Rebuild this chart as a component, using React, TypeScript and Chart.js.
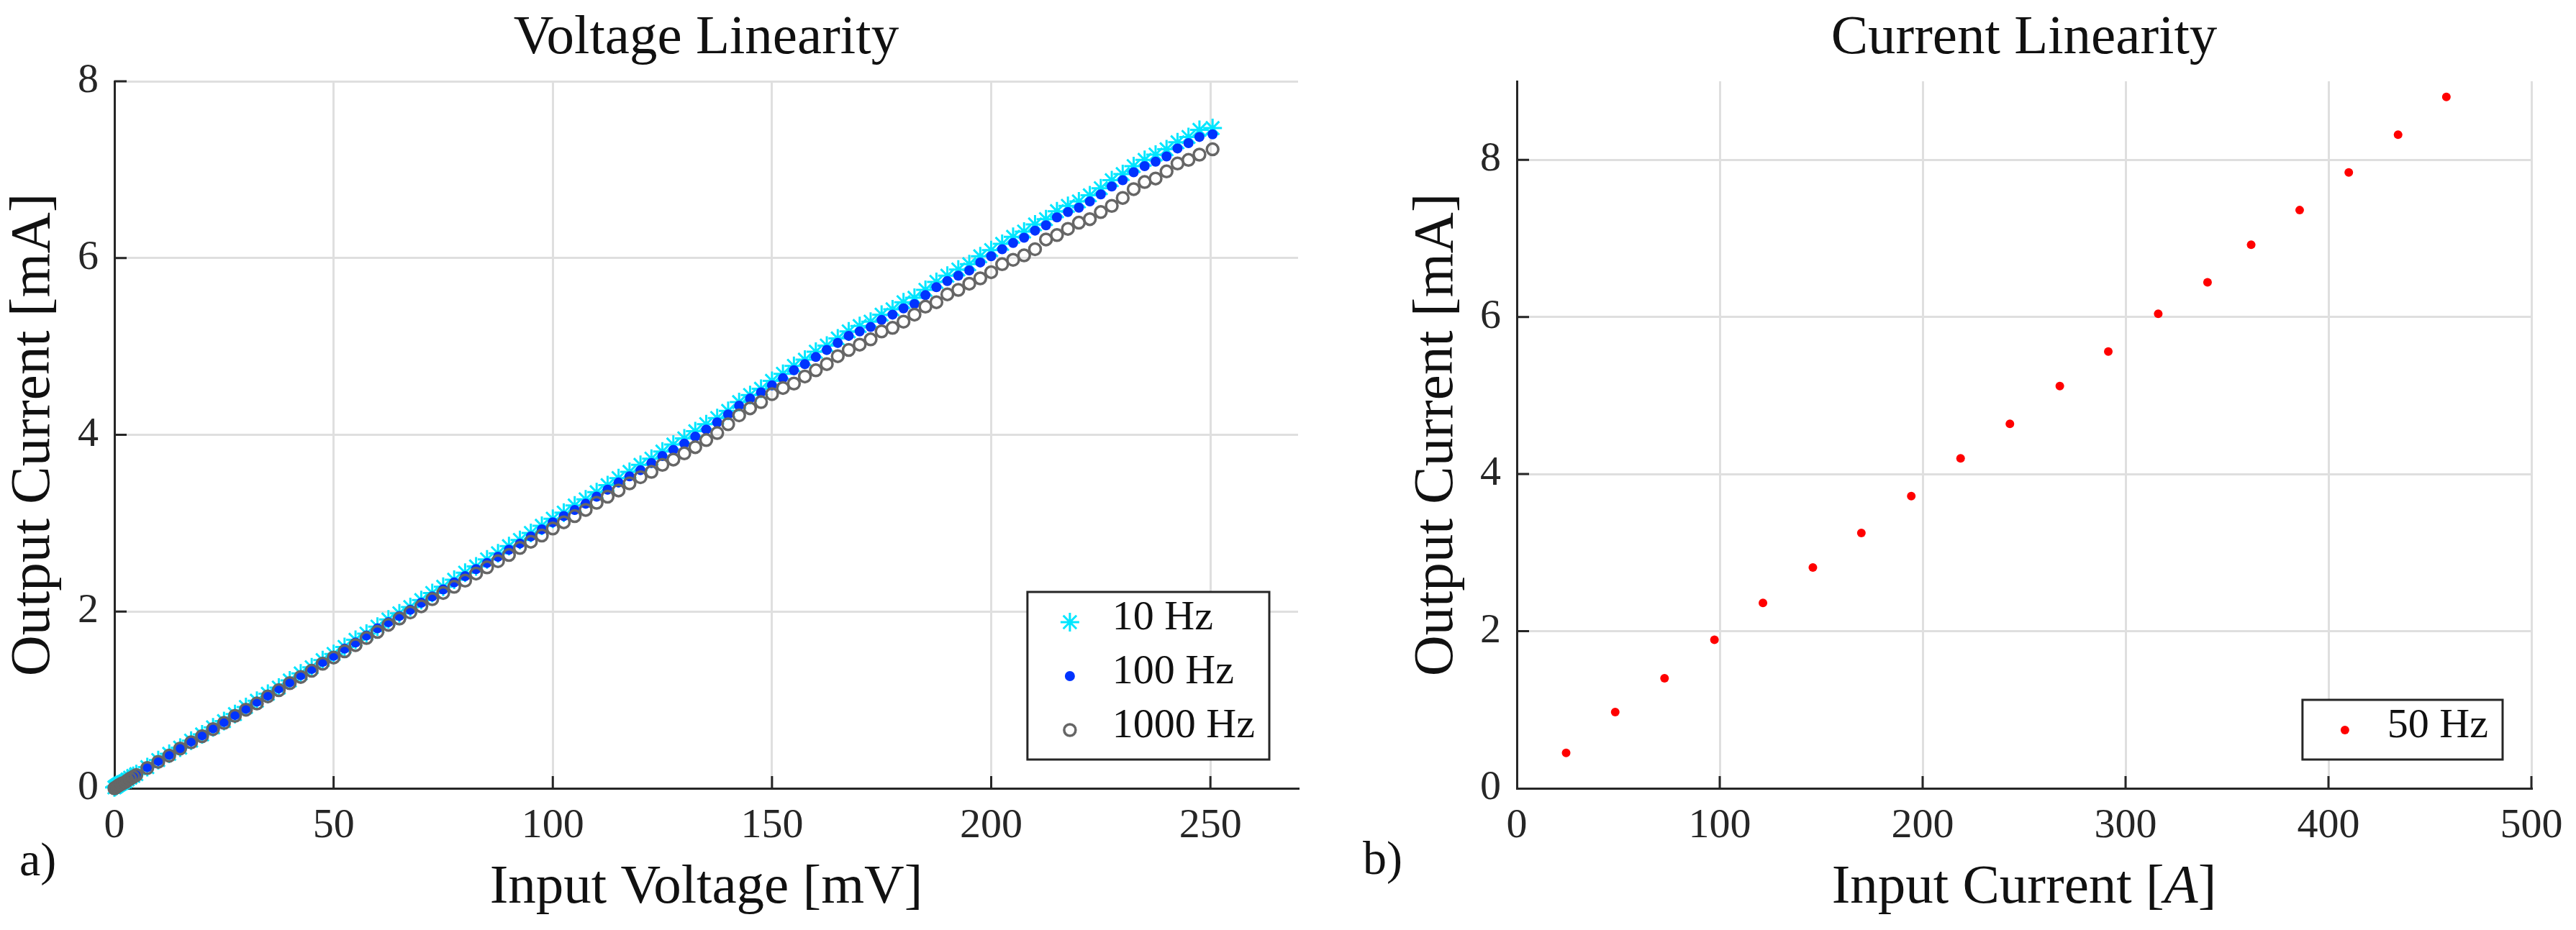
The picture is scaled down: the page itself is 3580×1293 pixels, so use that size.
import { useEffect, useRef } from "react";
import React from "react";
import { Chart, ChartConfiguration, Plugin, registerables } from "chart.js";
import { drawPoint } from "chart.js/helpers";
Chart.register(...registerables);

// ---- data ----
const inputVoltage = [
  0, 0.3, 0.6, 0.9, 1.2, 1.6, 2.0, 2.5, 3.0, 3.6,
  4.3, 5.0, 7.5, 10, 12.5, 15, 17.5, 20, 22.5, 25,
  27.5, 30, 32.5, 35, 37.5, 40, 42.5, 45, 47.5, 50,
  52.5, 55, 57.5, 60, 62.5, 65, 67.5, 70, 72.5, 75,
  77.5, 80, 82.5, 85, 87.5, 90, 92.5, 95, 97.5, 100,
  102.5, 105, 107.5, 110, 112.5, 115, 117.5, 120, 122.5, 125,
  127.5, 130, 132.5, 135, 137.5, 140, 142.5, 145, 147.5, 150,
  152.5, 155, 157.5, 160, 162.5, 165, 167.5, 170, 172.5, 175,
  177.5, 180, 182.5, 185, 187.5, 190, 192.5, 195, 197.5, 200,
  202.5, 205, 207.5, 210, 212.5, 215, 217.5, 220, 222.5, 225,
  227.5, 230, 232.5, 235, 237.5, 240, 242.5, 245, 247.5, 250.5,
];

const current10Hz = [
  0.01, 0.02, 0.03, 0.04, 0.05, 0.06, 0.07, 0.08, 0.1, 0.12,
  0.14, 0.16, 0.24, 0.32, 0.39, 0.46, 0.54, 0.61, 0.69, 0.76,
  0.84, 0.92, 0.99, 1.07, 1.14, 1.22, 1.3, 1.37, 1.45, 1.52,
  1.6, 1.68, 1.75, 1.83, 1.91, 1.98, 2.05, 2.13, 2.21, 2.28,
  2.36, 2.44, 2.51, 2.59, 2.66, 2.74, 2.81, 2.89, 2.97, 3.05,
  3.12, 3.2, 3.27, 3.35, 3.43, 3.51, 3.58, 3.66, 3.73, 3.81,
  3.89, 3.96, 4.04, 4.12, 4.19, 4.27, 4.37, 4.45, 4.52, 4.61,
  4.69, 4.78, 4.85, 4.94, 5.01, 5.09, 5.17, 5.23, 5.28, 5.36,
  5.42, 5.5, 5.55, 5.64, 5.73, 5.8, 5.87, 5.93, 6.02, 6.09,
  6.16, 6.24, 6.3, 6.38, 6.44, 6.53, 6.59, 6.64, 6.71, 6.79,
  6.88, 6.95, 7.04, 7.11, 7.17, 7.23, 7.31, 7.37, 7.45, 7.47,
];

const current100Hz = [
  0.0, 0.01, 0.02, 0.03, 0.04, 0.05, 0.06, 0.08, 0.09, 0.11,
  0.13, 0.15, 0.24, 0.31, 0.38, 0.45, 0.53, 0.6, 0.68, 0.75,
  0.83, 0.9, 0.98, 1.05, 1.13, 1.2, 1.28, 1.35, 1.43, 1.5,
  1.58, 1.65, 1.73, 1.81, 1.88, 1.95, 2.02, 2.1, 2.17, 2.25,
  2.33, 2.4, 2.48, 2.55, 2.62, 2.7, 2.77, 2.85, 2.93, 3.01,
  3.08, 3.15, 3.22, 3.3, 3.38, 3.46, 3.53, 3.6, 3.68, 3.76,
  3.83, 3.9, 3.98, 4.06, 4.14, 4.23, 4.33, 4.41, 4.48, 4.56,
  4.64, 4.73, 4.8, 4.88, 4.96, 5.04, 5.12, 5.17, 5.22, 5.3,
  5.36, 5.43, 5.48, 5.58, 5.67, 5.74, 5.8, 5.86, 5.95, 6.02,
  6.1, 6.17, 6.23, 6.31, 6.37, 6.46, 6.52, 6.57, 6.64, 6.72,
  6.81, 6.88, 6.97, 7.04, 7.09, 7.15, 7.24, 7.3, 7.37, 7.4,
];

const current1000Hz = [
  0.0, 0.01, 0.02, 0.03, 0.04, 0.05, 0.06, 0.07, 0.09, 0.11,
  0.13, 0.15, 0.23, 0.3, 0.37, 0.45, 0.52, 0.59, 0.67, 0.74,
  0.82, 0.89, 0.96, 1.04, 1.11, 1.19, 1.26, 1.33, 1.41, 1.48,
  1.55, 1.62, 1.7, 1.77, 1.85, 1.92, 1.99, 2.06, 2.14, 2.21,
  2.28, 2.35, 2.43, 2.5, 2.57, 2.64, 2.72, 2.79, 2.86, 2.94,
  3.01, 3.08, 3.15, 3.23, 3.3, 3.37, 3.45, 3.52, 3.58, 3.66,
  3.72, 3.79, 3.86, 3.94, 4.02, 4.12, 4.22, 4.3, 4.37, 4.46,
  4.53, 4.58, 4.66, 4.73, 4.8, 4.89, 4.96, 5.02, 5.08, 5.17,
  5.21, 5.28, 5.36, 5.45, 5.5, 5.59, 5.64, 5.71, 5.77, 5.84,
  5.93, 5.98, 6.03, 6.1, 6.21, 6.26, 6.33, 6.4, 6.44, 6.52,
  6.59, 6.68, 6.78, 6.86, 6.9, 6.98, 7.07, 7.11, 7.17, 7.23,
];

const inputCurrent = [
  24.3, 48.5, 72.8, 97.4, 121.3, 145.9, 169.8, 194.4, 218.7, 243.0,
  267.6, 291.5, 316.1, 340.4, 361.9, 385.8, 410.0, 434.3, 458.1,
];
const current50Hz = [
  0.45, 0.97, 1.4, 1.89, 2.36, 2.81, 3.25, 3.72, 4.2, 4.64,
  5.12, 5.56, 6.04, 6.44, 6.92, 7.36, 7.84, 8.32, 8.8,
];

// ---- look ----
const FONT = "'Liberation Serif', 'DejaVu Serif', serif";
const INK = "#262626";
const GRID = "#dfdfdf";
const TICK_LEN = 17;

Chart.defaults.font.family = FONT;

const toPoints = (xs: number[], ys: number[]) =>
  xs.map((x, i) => ({ x, y: ys[i] }));

// MATLAB-style ticks pointing into the axes
const innerTicks: Plugin = {
  id: "innerTicks",
  beforeDatasetsDraw(chart) {
    const { ctx, chartArea } = chart;
    const xs = chart.scales.x;
    const ys = chart.scales.y;
    ctx.save();
    ctx.strokeStyle = INK;
    ctx.lineWidth = 3;
    ctx.beginPath();
    xs.ticks.forEach((t) => {
      if (t.value === xs.min) return;
      const px = xs.getPixelForValue(t.value);
      ctx.moveTo(px, chartArea.bottom);
      ctx.lineTo(px, chartArea.bottom - TICK_LEN);
    });
    ys.ticks.forEach((t) => {
      if (t.value === ys.min) return;
      const py = ys.getPixelForValue(t.value);
      ctx.moveTo(chartArea.left, py);
      ctx.lineTo(chartArea.left + TICK_LEN, py);
    });
    ctx.stroke();
    ctx.restore();
  },
};

// title and x label centred on the plot area, plus panel tag "a)" / "b)"
// xTitle is a list of [text, italic] runs so the unit symbol can be italic
const panelText: Plugin = {
  id: "panelText",
  afterDraw(chart, _args, opts: any) {
    const { ctx, chartArea } = chart;
    const cx = (chartArea.left + chartArea.right) / 2;
    ctx.save();
    ctx.fillStyle = "#111";
    ctx.textBaseline = "alphabetic";
    ctx.textAlign = "center";
    ctx.font = `77px ${FONT}`;
    ctx.fillText(opts.title, cx, 74);

    const runs: [string, boolean][] = opts.xTitle;
    const fontOf = (it: boolean) => `${it ? "italic " : ""}77px ${FONT}`;
    let total = 0;
    runs.forEach(([s, it]) => {
      ctx.font = fontOf(it);
      total += ctx.measureText(s).width;
    });
    let x = cx - total / 2;
    ctx.textAlign = "left";
    runs.forEach(([s, it]) => {
      ctx.font = fontOf(it);
      ctx.fillText(s, x, 1255);
      x += ctx.measureText(s).width;
    });

    ctx.font = `66px ${FONT}`;
    ctx.fillText(opts.tag, opts.tagX, opts.tagY);
    ctx.restore();
  },
};

// boxed legend in the lower right corner of the plot area
const boxLegend: Plugin = {
  id: "boxLegend",
  afterDatasetsDraw(chart) {
    const { ctx, chartArea } = chart;
    const items = chart.data.datasets as any[];
    ctx.save();
    ctx.font = `58px ${FONT}`;
    const textW = Math.max(...items.map((d) => ctx.measureText(d.label).width));
    const w = 118 + textW + 20;
    const h = 37 + (items.length - 1) * 75 + 46;
    const right = chartArea.right - 40;
    const bottom = chartArea.bottom - 40;
    const left = right - w;
    const top = bottom - h;
    ctx.fillStyle = "#ffffff";
    ctx.fillRect(left, top, w, h);
    ctx.strokeStyle = INK;
    ctx.lineWidth = 3;
    ctx.strokeRect(left, top, w, h);
    items.forEach((d, i) => {
      const cy = top + 37 + i * 75;
      ctx.fillStyle = d.pointBackgroundColor;
      ctx.strokeStyle = d.pointBorderColor;
      ctx.lineWidth = d.pointBorderWidth;
      drawPoint(
        ctx,
        {
          pointStyle: d.pointStyle,
          radius: d.pointRadius,
          borderWidth: d.pointBorderWidth,
          rotation: 0,
        } as any,
        left + 59,
        cy + 5
      );
      ctx.fillStyle = "#111";
      ctx.textAlign = "left";
      ctx.textBaseline = "middle";
      ctx.fillText(d.label, left + 118, cy);
    });
    ctx.restore();
  },
};

const tickFont = { family: FONT, size: 58, lineHeight: 1.2 };
const yTitleFont = { family: FONT, size: 79, lineHeight: 1.2 };

const makeConfig = (p: {
  datasets: any[];
  xMax: number;
  xStep: number;
  yMax: number;
  xTitle: [string, boolean][];
  yTitlePad: number;
  yWidth: number;
  rightPad: number;
  title: string;
  tag: string;
  tagX: number;
  tagY: number;
}): ChartConfiguration => ({
  type: "scatter",
  data: { datasets: p.datasets },
  plugins: [innerTicks, boxLegend, panelText],
  options: {
    animation: false,
    responsive: true,
    maintainAspectRatio: false,
    events: [],
    layout: { padding: { top: 113, left: 0, right: p.rightPad, bottom: 0 } },
    plugins: {
      legend: { display: false },
      tooltip: { enabled: false },
      title: { display: false },
      panelText: {
        title: p.title,
        xTitle: p.xTitle,
        tag: p.tag,
        tagX: p.tagX,
        tagY: p.tagY,
      },
    } as any,
    scales: {
      x: {
        type: "linear",
        min: 0,
        max: p.xMax,
        ticks: {
          stepSize: p.xStep,
          includeBounds: false,
          padding: 18,
          color: INK,
          font: tickFont,
          maxRotation: 0,
        },
        grid: { color: GRID, lineWidth: 3, drawTicks: false },
        border: { color: INK, width: 3 },
        title: { display: false },
        afterFit: (s: any) => {
          s.height = 197;
        },
      },
      y: {
        type: "linear",
        min: 0,
        max: p.yMax,
        ticks: {
          stepSize: 2,
          includeBounds: false,
          padding: 22,
          color: INK,
          font: tickFont,
        },
        grid: { color: GRID, lineWidth: 3, drawTicks: false },
        border: { color: INK, width: 3 },
        title: {
          display: true,
          text: "Output Current [mA]",
          color: "#111",
          font: yTitleFont,
          padding: { top: p.yTitlePad, bottom: 0 },
        },
        afterFit: (s: any) => {
          s.width = p.yWidth;
        },
      },
    },
  },
});

const voltageConfig = makeConfig({
  datasets: [
    {
      label: "10 Hz",
      data: toPoints(inputVoltage, current10Hz),
      pointStyle: "star",
      pointRadius: 13,
      pointHoverRadius: 13,
      pointBorderWidth: 3,
      pointBorderColor: "#00e6ff",
      pointBackgroundColor: "#00e6ff",
      showLine: false,
      clip: false,
      order: 3,
    },
    {
      label: "100 Hz",
      data: toPoints(inputVoltage, current100Hz),
      pointStyle: "circle",
      pointRadius: 7,
      pointHoverRadius: 7,
      pointBorderWidth: 0,
      pointBorderColor: "#0033ff",
      pointBackgroundColor: "#0033ff",
      showLine: false,
      clip: false,
      order: 2,
    },
    {
      label: "1000 Hz",
      data: toPoints(inputVoltage, current1000Hz),
      pointStyle: "circle",
      pointRadius: 8,
      pointHoverRadius: 8,
      pointBorderWidth: 3.5,
      pointBorderColor: "#666666",
      pointBackgroundColor: "rgba(0,0,0,0)",
      showLine: false,
      clip: false,
      order: 1,
    },
  ],
  xMax: 270,
  xStep: 50,
  yMax: 8,
  xTitle: [["Input Voltage [mV]", false]],
  yTitlePad: 0,
  yWidth: 159,
  rightPad: 56,
  title: "Voltage Linearity",
  tag: "a)",
  tagX: 27,
  tagY: 1217,
});

const currentConfig = makeConfig({
  datasets: [
    {
      label: "50 Hz",
      data: toPoints(inputCurrent, current50Hz),
      pointStyle: "circle",
      pointRadius: 6,
      pointHoverRadius: 6,
      pointBorderWidth: 0,
      pointBorderColor: "#ff0000",
      pointBackgroundColor: "#ff0000",
      showLine: false,
      clip: false,
    },
  ],
  xMax: 500,
  xStep: 100,
  yMax: 9,
  xTitle: [
    ["Input Current [", false],
    ["A", true],
    ["]", false],
  ],
  yTitlePad: 90,
  yWidth: 248,
  rightPad: 62,
  title: "Current Linearity",
  tag: "b)",
  tagX: 34,
  tagY: 1215,
});

const Panel = ({
  config,
  left,
  width,
}: {
  config: ChartConfiguration;
  left: number;
  width: number;
}) => {
  const ref = useRef<HTMLCanvasElement>(null);
  useEffect(() => {
    const chart = new Chart(ref.current!, config);
    return () => {
      chart.destroy();
    };
  }, [config]);
  return (
    <div style={{ position: "absolute", top: 0, left, width, height: 1293 }}>
      <canvas ref={ref}></canvas>
    </div>
  );
};

export default function App() {
  return (
    <div
      style={{
        position: "absolute",
        left: 0,
        top: 0,
        width: 3580,
        height: 1293,
        background: "#ffffff",
        overflow: "hidden",
      }}
    >
      <Panel config={voltageConfig} left={0} width={1860} />
      <Panel config={currentConfig} left={1860} width={1720} />
    </div>
  );
}
